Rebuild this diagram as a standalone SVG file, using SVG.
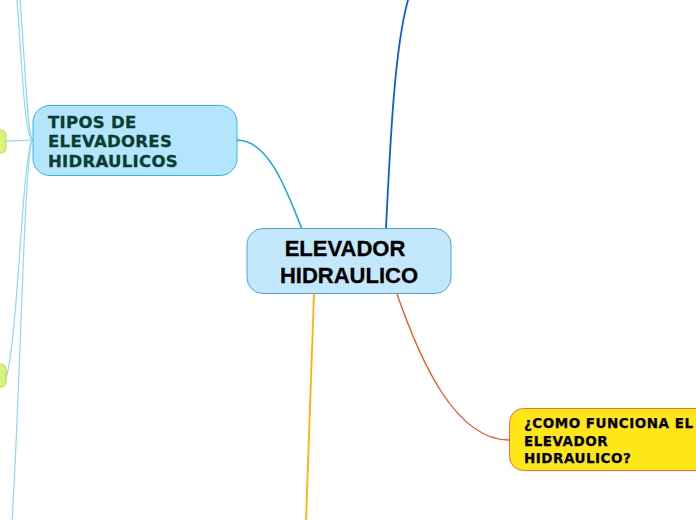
<svg xmlns="http://www.w3.org/2000/svg" width="696" height="520" viewBox="0 0 696 520">
<style>
.c{fill:none;stroke-linecap:round}
.thin{stroke:#8fd8f8;stroke-width:1.2}
.t1{font-family:"DejaVu Sans",Verdana,sans-serif;font-weight:bold}
</style>
<rect width="696" height="520" fill="#ffffff"/>
<g id="connectors">
<path class="c" stroke="#1aa3e0" stroke-width="1.5" d="M237,140 C270,140 288,195 302,229"/>
<path class="c" stroke="#0b5fd9" stroke-width="1.8" d="M386,228 C390,150 394,50 408,0"/>
<path class="c" stroke="#ffb300" stroke-width="1.8" d="M314,294 L306,521"/>
<path class="c" stroke="#f4511e" stroke-width="1.3" d="M397,294 C420,360 455,440 509,440"/>
<path class="c thin" d="M32,140 C24,134 22,60 17,0"/>
<path class="c thin" d="M32,140 C27,130 25,60 20,0"/>
<path class="c thin" d="M32,140 C22,140 14,141 6,141"/>
<path class="c thin" d="M32,140 C22,160 18,340 6,378"/>
<path class="c thin" d="M32,140 C24,165 20,400 12,521"/>
</g>
<g id="green1"><rect x="-12" y="130" width="18" height="23" rx="5" fill="#d6f57a" stroke="#b3df4c" stroke-width="1"/></g>
<g id="green2"><rect x="-12" y="364" width="18" height="23" rx="5" fill="#d6f57a" stroke="#b3df4c" stroke-width="1"/></g>
<g id="tipos">
<rect x="33" y="105.5" width="204" height="70" rx="17" fill="#b3e5fc" stroke="#29b6f6" stroke-width="1"/>
<g class="t1" font-size="16.5" letter-spacing="0.3" fill="#0a3d2e" stroke="#0a3d2e" stroke-width="0.3">
<text x="48" y="127.5">TIPOS DE</text>
<text x="48" y="147">ELEVADORES</text>
<text x="48" y="166.5">HIDRAULICOS</text>
</g>
</g>
<g id="central">
<rect x="247" y="228.5" width="204" height="65" rx="16" fill="#c4e8fb" stroke="#4aa5dc" stroke-width="1"/>
<g font-family="'Liberation Sans',Arial,sans-serif" font-weight="bold" font-size="22" fill="#000000" stroke="#000000" stroke-width="0.3" text-anchor="middle">
<text x="345" y="256">ELEVADOR</text>
<text x="349" y="283">HIDRAULICO</text>
</g>
</g>
<g id="como">
<rect x="509.5" y="408.5" width="210" height="62" rx="14" fill="#ffe617" stroke="#f46a3f" stroke-width="1"/>
<g class="t1" font-size="13.5" letter-spacing="0.5" fill="#000000" stroke="#000000" stroke-width="0.25">
<text x="524" y="428">¿COMO FUNCIONA EL</text>
<text x="524" y="445.5">ELEVADOR</text>
<text x="524" y="462.5">HIDRAULICO?</text>
</g>
</g>
</svg>
